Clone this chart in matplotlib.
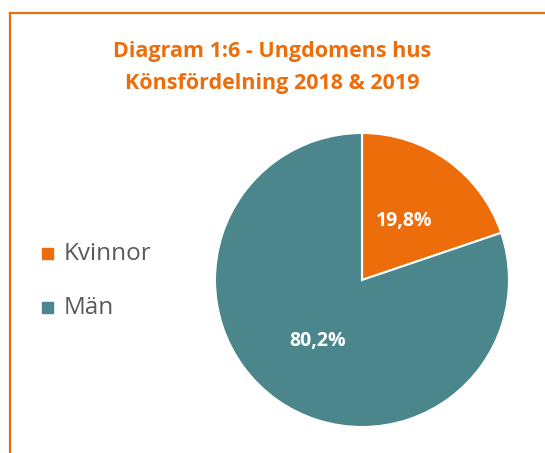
import matplotlib
matplotlib.use("Agg")
import matplotlib.pyplot as plt
from matplotlib.patches import Rectangle
from matplotlib.lines import Line2D

categories = ["Kvinnor", "Män"]
values = [19.8, 80.2]
labels = ["19,8%", "80,2%"]
colors = ["#ED6D0B", "#4B868C"]
title_lines = ["Diagram 1:6 - Ungdomens hus", "Könsfördelning 2018 & 2019"]

W, H = 545, 453
fig = plt.figure(figsize=(W / 100, H / 100), dpi=100)

# orange frame (left and top edges visible)
fig.add_artist(Line2D([10 / W, 10 / W], [0, 1 - 13 / H], color="#ED6D0B", lw=1.6, transform=fig.transFigure))
fig.add_artist(Line2D([10 / W, 1], [1 - 13 / H, 1 - 13 / H], color="#ED6D0B", lw=1.6, transform=fig.transFigure))

for i, line in enumerate(title_lines):
    fig.text(272 / W, 1 - (52 + 31 * i) / H, line, ha="center", va="center", color="#ED6D0B",
             fontsize=15.5, fontweight="bold", family="Open Sans")

cx, cy, r = 362, 280, 147
ax = fig.add_axes([(cx - r) / W, (H - cy - r) / H, 2 * r / W, 2 * r / H])
wedges, _ = ax.pie(values, colors=colors, startangle=90, counterclock=False, radius=1,
                   wedgeprops=dict(edgecolor="white", linewidth=1.5))
ax.set_xlim(-1, 1)
ax.set_ylim(-1, 1)
ax.set_aspect("equal")
ax.axis("off")

# labels
ax.text((404 - cx) / r, -(221 - cy) / r, labels[0], ha="center", va="center", color="white",
        fontsize=14, fontweight="bold", family="Open Sans")
ax.text((317.5 - cx) / r, -(341 - cy) / r, labels[1], ha="center", va="center", color="white",
        fontsize=14, fontweight="bold", family="Open Sans")

# legend
for i, (cat, col) in enumerate(zip(categories, colors)):
    y = 253.5 + i * 54
    fig.add_artist(Rectangle((42 / W, 1 - (y + 5.5) / H), 11 / W, 11 / H, color=col, transform=fig.transFigure))
    fig.text(64 / W, 1 - y / H, cat, ha="left", va="center", color="#595959", fontsize=17.5, family="Open Sans")

fig.savefig("out.png", dpi=100)
